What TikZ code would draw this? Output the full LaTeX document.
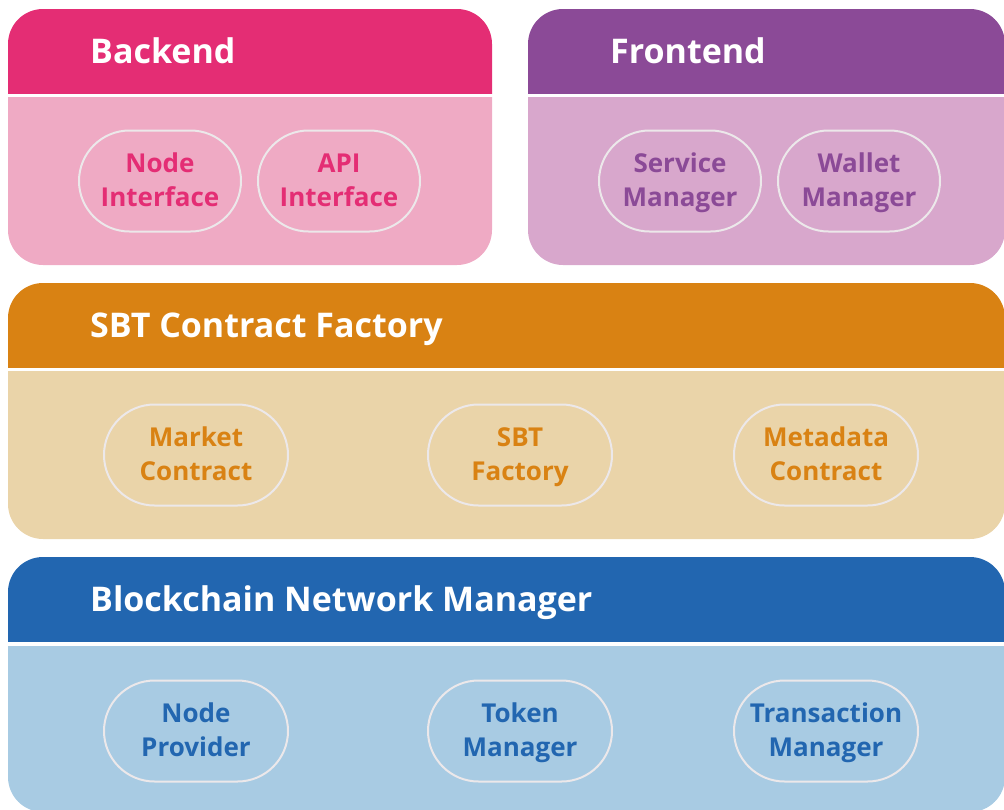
\documentclass[tikz,border=0pt]{standalone}
\usepackage{fontspec}
\setmainfont{Open Sans}
\usetikzlibrary{shapes.misc}
\definecolor{bkhead}{HTML}{E42D74}
\definecolor{bkbody}{HTML}{EFAAC4}
\definecolor{fehead}{HTML}{8B4A97}
\definecolor{febody}{HTML}{D8A7CC}
\definecolor{sbhead}{HTML}{D98213}
\definecolor{sbbody}{HTML}{EAD4A9}
\definecolor{bchead}{HTML}{2266B0}
\definecolor{bcbody}{HTML}{A8CBE3}
\definecolor{pillline}{HTML}{ECE8EA}
\newcommand{\twolines}[2]{\rule{0pt}{27.5pt}#1\\#2\strut}
\tikzset{
  hdrtext/.style={anchor=base west,inner sep=0pt,text=white,font=\bfseries\fontsize{34}{40}\selectfont},
  pill/.style={rounded rectangle,draw=pillline,line width=2pt,minimum width=162pt,minimum height=101pt,inner sep=0pt,align=center,
    font=\bfseries\fontsize{26}{34}\selectfont},
  widepill/.style={pill,minimum width=184pt}
}
\begin{document}
\begin{tikzpicture}[line cap=round,line join=round,x=1pt,y=-1pt]
\useasboundingbox (0,0) rectangle (1004,809);
\clip (0,0) rectangle (1004,809);
% backend panel
\begin{scope}
  \clip (0,0) rectangle (500,93);
  \fill [bkhead,rounded corners=35pt] (8,9) rectangle (492,265);
\end{scope}
\begin{scope}
  \clip (0,97) rectangle (500,280);
  \fill [bkbody,rounded corners=35pt] (8,9) rectangle (492,265);
\end{scope}
% frontend panel
\begin{scope}
  \clip (520,0) rectangle (1010,93);
  \fill [fehead,rounded corners=35pt] (528,9) rectangle (1005,265);
\end{scope}
\begin{scope}
  \clip (520,97) rectangle (1010,280);
  \fill [febody,rounded corners=35pt] (528,9) rectangle (1005,265);
\end{scope}
% contract factory panel
\begin{scope}
  \clip (0,275) rectangle (1010,367);
  \fill [sbhead,rounded corners=35pt] (8,283) rectangle (1005,539);
\end{scope}
\begin{scope}
  \clip (0,371) rectangle (1010,545);
  \fill [sbbody,rounded corners=35pt] (8,283) rectangle (1005,539);
\end{scope}
% network manager panel
\begin{scope}
  \clip (0,550) rectangle (1010,641);
  \fill [bchead,rounded corners=35pt] (8,557) rectangle (1005,812);
\end{scope}
\begin{scope}
  \clip (0,646) rectangle (1010,820);
  \fill [bcbody,rounded corners=35pt] (8,557) rectangle (1005,812);
\end{scope}
% titles
\node [hdrtext] (backend) at (90,63) {Backend};
\node [hdrtext] (frontend) at (610,63) {Frontend};
\node [hdrtext] (factory) at (90,337) {SBT Contract Factory};
\node [hdrtext] (network) at (90,611) {Blockchain Network Manager};
% modules
\node [pill,text=bkhead] (nodeif) at (160,181) {\twolines{Node}{Interface}};
\node [pill,text=bkhead] (apiif) at (339,181) {\twolines{API}{Interface}};
\node [pill,text=fehead] (servmgr) at (680,181) {\twolines{Service}{Manager}};
\node [pill,text=fehead] (walletmgr) at (859,181) {\twolines{Wallet}{Manager}};
\node [widepill,text=sbhead] (market) at (196,455) {\twolines{Market}{Contract}};
\node [widepill,text=sbhead] (sbtfac) at (520,455) {\twolines{SBT}{Factory}};
\node [widepill,text=sbhead] (metadata) at (826,455) {\twolines{Metadata}{Contract}};
\node [widepill,text=bchead] (nodeprov) at (196,731) {\twolines{Node}{Provider}};
\node [widepill,text=bchead] (tokenmgr) at (520,731) {\twolines{Token}{Manager}};
\node [widepill,text=bchead] (txmgr) at (826,731) {\twolines{Transaction}{Manager}};
\end{tikzpicture}
\end{document}
